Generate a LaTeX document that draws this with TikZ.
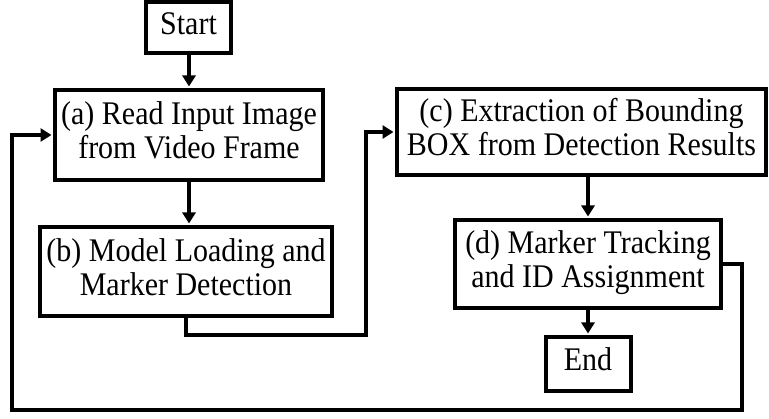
\documentclass[tikz,border=0pt]{standalone}
\usepackage{fontspec}
\usepackage{graphicx}
\setmainfont{Liberation Serif}
\usetikzlibrary{arrows.meta}
\newcommand{\stxt}[1]{\raisebox{-4pt}{\scalebox{1}[1.1]{\begin{tabular}{@{}c@{}}#1\end{tabular}}}}
\begin{document}
\begin{tikzpicture}[x=1pt,y=-1pt,
  box/.style={draw, line width=4pt, align=center, inner sep=0pt,
    font=\fontsize{30}{31}\selectfont},
  flow/.style={line width=4pt, -{Triangle[length=11pt,width=13pt]}, shorten >=1.5pt}]
\useasboundingbox (0,0) rectangle (769,419);
\node[box, minimum width=85pt, minimum height=51pt] (start) at (188.5,27.5) {\stxt{Start}};
\node[box, minimum width=268pt, minimum height=90pt] (a) at (189,135) {\stxt{(a) Read Input Image\\from Video Frame}};
\node[box, minimum width=292pt, minimum height=89pt] (b) at (186,271.5) {\stxt{(b) Model Loading and\\Marker Detection}};
\node[box, minimum width=369pt, minimum height=86pt] (c) at (581.5,132) {\stxt{(c) Extraction of Bounding\\BOX from Detection Results}};
\node[box, minimum width=266pt, minimum height=88pt] (d) at (588,264) {\stxt{(d) Marker Tracking\\and ID Assignment}};
\node[box, minimum width=85pt, minimum height=54pt] (end) at (588,364) {\stxt{End}};
\coordinate (b1) at (366,335);
\coordinate (r1) at (742,410);
\coordinate (l1) at (12,410);
\draw[flow] (start.south -| a.north) -- (a.north);
\draw[flow] (a.south) -- (b.north -| a.south);
\draw[flow] (b.south) |- (b1) |- (c.west);
\draw[flow] (c.south -| d.north) -- (d.north);
\draw[flow] (d.south) -- (end.north);
\draw[flow] (d.east) -| (r1) -- (l1) |- (a.west);
\end{tikzpicture}
\end{document}
